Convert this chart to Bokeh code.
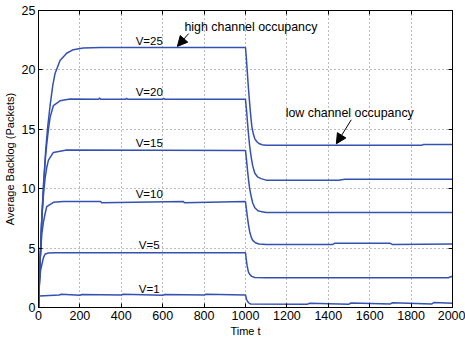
from bokeh.plotting import figure
from bokeh.models import LinearAxis, Arrow, NormalHead, Label, FixedTicker, CustomJSTickFormatter
from bokeh.embed import file_html
from bokeh.resources import INLINE

# ---- data ----
t_v25 = [0, 8, 16, 25, 35, 45, 56, 69, 80, 104, 136, 168, 216, 300, 1000,
         1004, 1008, 1014, 1020, 1026, 1031, 1038, 1045, 1055, 1065, 1080, 1100, 1850, 1860, 2000]
y_v25 = [0, 4.0, 7.5, 10.5, 13.3, 15.3, 17.0, 18.7, 19.7, 20.8, 21.4, 21.7, 21.85, 21.88, 21.88,
         21.0, 20.0, 18.5, 17.2, 16.0, 15.2, 14.6, 14.2, 13.95, 13.8, 13.7, 13.65, 13.65, 13.72, 13.72]

t_v20 = [0, 8, 16, 25, 33, 40, 48, 56, 72, 104, 152, 290, 295, 300, 420, 425, 430, 600, 605, 610, 1000,
         1005, 1010, 1015, 1020, 1028, 1035, 1045, 1058, 1075, 1100, 1450, 1480, 2000]
y_v20 = [0, 4.0, 7.5, 10.5, 12.5, 13.8, 15.0, 16.0, 17.0, 17.4, 17.55, 17.52, 17.65, 17.52, 17.52, 17.62, 17.52, 17.52, 17.62, 17.52, 17.52,
         16.6, 15.5, 14.5, 13.6, 12.6, 11.9, 11.3, 11.0, 10.85, 10.72, 10.72, 10.8, 10.8]

t_v15 = [0, 8, 16, 24, 32, 40, 48, 72, 136, 1000,
         1005, 1010, 1015, 1020, 1028, 1035, 1045, 1060, 1080, 1100, 2000]
y_v15 = [0, 4.0, 7.5, 9.5, 10.9, 11.8, 12.4, 13.05, 13.25, 13.22,
         12.4, 11.5, 10.7, 10.0, 9.3, 8.8, 8.4, 8.15, 8.05, 8.0, 8.0]

t_v10 = [0, 6, 16, 24, 32, 40, 72, 120, 300, 305, 700, 705, 1000,
         1005, 1010, 1015, 1020, 1028, 1035, 1048, 1065, 1100, 1420, 1430, 1700, 1710, 2000]
y_v10 = [0, 3.5, 6.2, 7.2, 7.9, 8.5, 8.85, 8.92, 8.92, 8.82, 8.92, 8.82, 8.92,
         8.2, 7.5, 6.9, 6.4, 5.9, 5.65, 5.45, 5.35, 5.3, 5.3, 5.4, 5.4, 5.3, 5.35]

t_v5 = [0, 5, 10, 16, 24, 32, 48, 80, 1000,
        1004, 1008, 1014, 1020, 1030, 1045, 1100, 1980, 1995, 2000]
y_v5 = [0, 2.2, 3.1, 3.6, 4.2, 4.5, 4.58, 4.6, 4.6,
        4.0, 3.5, 3.0, 2.8, 2.62, 2.53, 2.5, 2.5, 2.62, 2.55]

t_v1 = [0, 3, 100, 110, 200, 210, 400, 410, 600, 610, 800, 810, 1000,
        1005, 1010, 1018, 1025, 1300, 1310, 1500, 1510, 1700, 1710, 1900, 1910, 2000]
y_v1 = [0, 0.97, 1.05, 1.12, 1.03, 1.1, 1.05, 1.12, 1.03, 1.1, 1.05, 1.12, 1.05,
        0.7, 0.5, 0.35, 0.3, 0.28, 0.36, 0.28, 0.38, 0.3, 0.4, 0.3, 0.42, 0.35]

series = [(t_v25, y_v25), (t_v20, y_v20), (t_v15, y_v15), (t_v10, y_v10), (t_v5, y_v5), (t_v1, y_v1)]

v_labels = ["V=25", "V=20", "V=15", "V=10", "V=5", "V=1"]
v_label_x = [535, 535, 535, 535, 535, 535]
v_label_y = [22.45, 18.15, 13.85, 9.55, 5.25, 1.55]

x_ticks = [0, 200, 400, 600, 800, 1000, 1200, 1400, 1600, 1800, 2000]
y_ticks = [0, 5, 10, 15, 20, 25]

FONT = "Liberation Sans"
BLUE = "#3451b2"

p = figure(width=465, height=342, output_backend="svg", toolbar_location=None,
           x_range=(0, 2000), y_range=(0, 25),
           min_border_left=35, min_border_right=13, min_border_top=10, min_border_bottom=35)
p.outline_line_color = "black"
p.outline_line_width = 1
p.background_fill_color = "white"
p.border_fill_color = "white"

for ax in (p.xaxis[0], p.yaxis[0]):
    ax.major_tick_in = 4
    ax.major_tick_out = 0
    ax.minor_tick_in = 0
    ax.minor_tick_out = 0
    ax.axis_line_color = "black"
    ax.major_label_text_font = FONT
    ax.major_label_text_font_size = "12.5px"
    ax.major_label_text_color = "black"
    ax.axis_label_text_font = FONT
    ax.axis_label_text_font_size = "11px"
    ax.axis_label_text_font_style = "normal"
    ax.axis_label_text_color = "black"

p.xaxis.ticker = FixedTicker(ticks=x_ticks)
p.yaxis.ticker = FixedTicker(ticks=y_ticks)
p.xaxis.axis_label = "Time t"
p.yaxis.axis_label = "Average Backlog (Packets)"
p.xaxis.major_label_standoff = 3
p.xaxis.axis_label_standoff = 2
p.yaxis.major_label_standoff = 3
p.yaxis.axis_label_standoff = 3

for loc, tk in (("above", x_ticks), ("right", y_ticks)):
    a = LinearAxis(ticker=FixedTicker(ticks=tk), major_tick_in=4, major_tick_out=0,
                   minor_tick_in=0, minor_tick_out=0,
                   formatter=CustomJSTickFormatter(code="return ''"),
                   major_label_standoff=0, axis_line_color="black")
    p.add_layout(a, loc)

p.xgrid.ticker = FixedTicker(ticks=x_ticks)
p.ygrid.ticker = FixedTicker(ticks=y_ticks)
for g in (p.xgrid[0], p.ygrid[0]):
    g.grid_line_color = "#555555"
    g.grid_line_dash = "1 3"
    g.grid_line_width = 1
    g.grid_line_alpha = 0.8

for t, y in series:
    p.line(t, y, line_color=BLUE, line_width=1.5)

for lab, lx, ly in zip(v_labels, v_label_x, v_label_y):
    p.add_layout(Label(x=lx, y=ly, text=lab, text_font=FONT, text_font_size="11.5px",
                       text_align="center", text_baseline="middle", text_color="black"))

p.add_layout(Label(x=705, y=23.65, text="high channel occupancy", text_font=FONT,
                   text_font_size="12.4px", text_baseline="middle", text_color="black"))
p.add_layout(Label(x=1194, y=16.4, text="low channel occupancy", text_font=FONT,
                   text_font_size="12.4px", text_baseline="middle", text_color="black"))

p.add_layout(Arrow(x_start=725, y_start=23.05, x_end=671, y_end=21.98,
                   line_color="black", line_width=1,
                   end=NormalHead(size=10, fill_color="black", line_color="black")))
p.add_layout(Arrow(x_start=1511, y_start=15.8, x_end=1439, y_end=13.78,
                   line_color="black", line_width=1,
                   end=NormalHead(size=10, fill_color="black", line_color="black")))

open("out.html", "w").write(file_html(p, INLINE))
